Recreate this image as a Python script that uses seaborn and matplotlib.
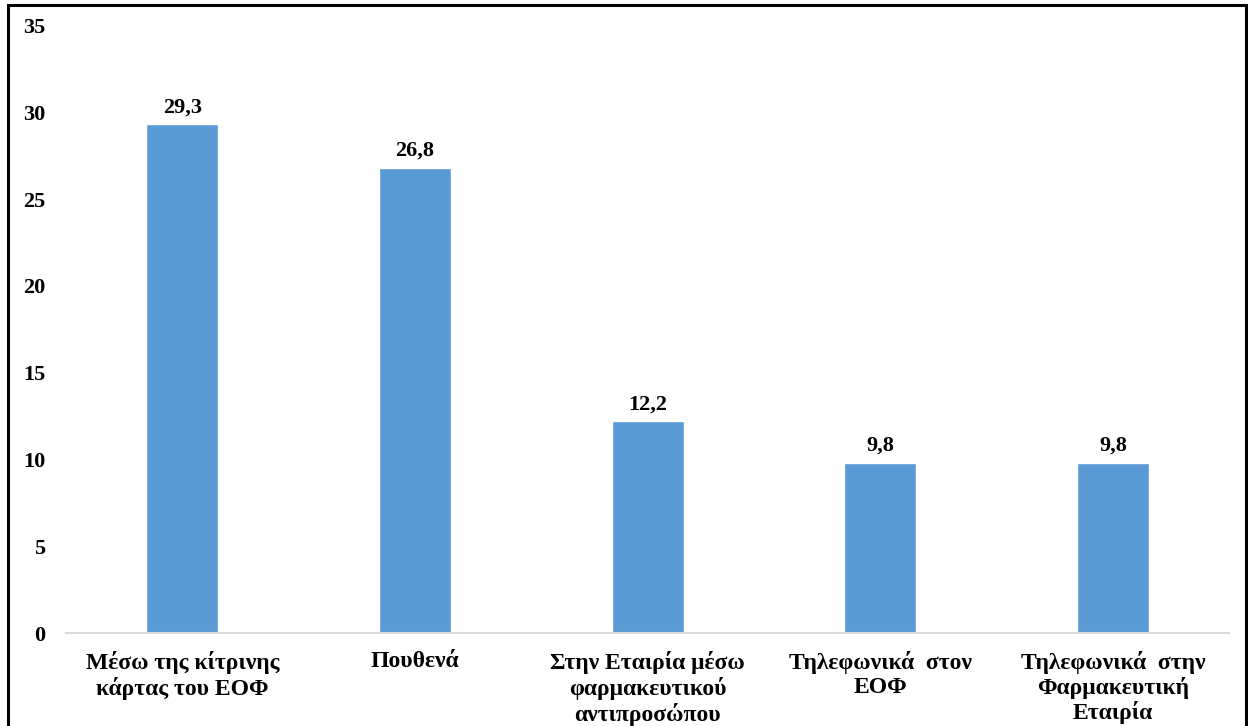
import matplotlib
matplotlib.use("Agg")
import matplotlib.pyplot as plt
from matplotlib.patches import Rectangle
import seaborn as sns
import pandas as pd

categories = [
    "Μέσω της κίτρινης\nκάρτας του ΕΟΦ",
    "Πουθενά",
    "Στην Εταιρία μέσω\nφαρμακευτικού\nαντιπροσώπου",
    "Τηλεφωνικά  στον\nΕΟΦ",
    "Τηλεφωνικά  στην\nΦαρμακευτική\nΕταιρία",
]
values = [29.3, 26.8, 12.2, 9.8, 9.8]
value_labels = ["29,3", "26,8", "12,2", "9,8", "9,8"]
y_ticks = [0, 5, 10, 15, 20, 25, 30, 35]

sns.set_theme(style="white")
plt.rcParams["font.family"] = ["Liberation Serif", "DejaVu Serif"]
plt.rcParams["font.weight"] = "bold"
plt.rcParams["text.color"] = "black"
plt.rcParams["xtick.color"] = "black"
plt.rcParams["ytick.color"] = "black"

df = pd.DataFrame({"category": categories, "value": values})

fig = plt.figure(figsize=(12.48, 7.26), dpi=100)
ax = fig.add_axes([0.0529, 0.128, 0.932, 0.837])

sns.barplot(data=df, x="category", y="value", color="#5B9BD5", saturation=1,
            width=0.31, ax=ax)

ax.set_ylim(0, 35)
ax.set_yticks(y_ticks)
ax.set_yticklabels([str(t) for t in y_ticks], fontsize=16, fontweight="bold",
                   color="black")
ax.set_xlim(-0.5, len(categories) - 0.5)
ax.set_xlabel("")
ax.set_ylabel("")
ax.tick_params(axis="y", length=0, pad=15)
ax.tick_params(axis="x", length=0, pad=13)
for lbl in ax.get_xticklabels():
    lbl.set_fontsize(17)
    lbl.set_fontweight("bold")
    lbl.set_color("black")
    lbl.set_linespacing(1.15)

for side in ["top", "right", "left"]:
    ax.spines[side].set_visible(False)
ax.spines["bottom"].set_color("#D9D9D9")
ax.spines["bottom"].set_linewidth(1.5)

for container in ax.containers:
    ax.bar_label(container, labels=value_labels, padding=5,
                 fontsize=16, fontweight="bold", color="black")

# outer frame around the chart
fig.patches.append(Rectangle((8 / 1248, -0.05), 1238 / 1248, 1.05 - 5 / 726,
                             transform=fig.transFigure, fill=False,
                             edgecolor="black", linewidth=2.2))

fig.savefig("out.png", dpi=100)
